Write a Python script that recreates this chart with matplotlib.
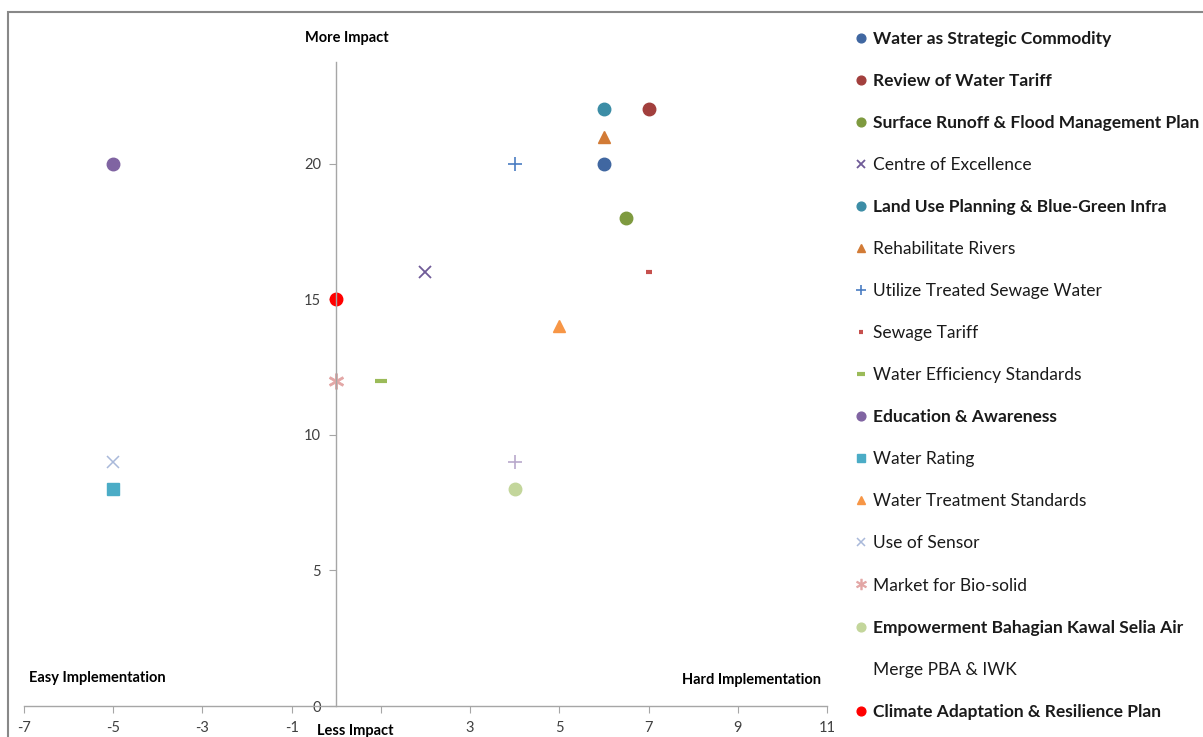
import matplotlib.pyplot as plt
from matplotlib.patches import Rectangle

plt.rcParams['font.family'] = ['Lato', 'DejaVu Sans']
plt.rcParams['axes.unicode_minus'] = False

# initiatives: (name, implementation score, impact score)
names = [
    "Water as Strategic Commodity", "Review of Water Tariff",
    "Surface Runoff & Flood Management Plan", "Centre of Excellence",
    "Land Use Planning & Blue-Green Infra", "Rehabilitate Rivers",
    "Utilize Treated Sewage Water", "Sewage Tariff", "Water Efficiency Standards",
    "Education & Awareness", "Water Rating", "Water Treatment Standards",
    "Use of Sensor", "Market for Bio-solid", "Empowerment Bahagian Kawal Selia Air",
    "Merge PBA & IWK", "Climate Adaptation & Resilience Plan",
]
x_vals = [6, 7, 6.5, 2, 6, 6, 4, 7, 1, -5, -5, 5, -5, 0, 4, 4, 0]
y_vals = [20, 22, 18, 16, 22, 21, 20, 16, 12, 20, 8, 14, 9, 12, 8, 9, 15]
bold = [True, True, True, False, True, False, False, False, False,
        True, False, False, False, False, True, False, True]
x_ticks = list(range(-7, 12, 2))
x_tick_labels = [str(v) if v != 1 else '' for v in x_ticks]  # "1" sits under "Less Impact"

# marker styles per series
markers = ['o', 'o', 'o', 'x', 'o', '^', '+', '_', '_', 'o', 's', '^', 'x', '$\u2217$', 'o', '+', 'o']
colors = ['#4067A1', '#A23F3D', '#7E9A3F', '#6F5B98', '#3C8DA6', '#D27B36', '#4A7DC2',
          '#C6504D', '#9BBB59', '#8064A2', '#4BACC6', '#F79646', '#A9B9DA', '#E3A6A5',
          '#C3D69B', '#B9A9CC', '#FF0000']
sizes = [9, 9, 9, 9, 9, 9, 10, 5, 9, 9, 8, 9, 9, 11, 9, 10, 9]
mews = [1, 1, 1, 1.3, 1, 1, 1.2, 3, 3, 1, 1, 1, 1.1, 0.6, 1, 1.2, 1]

fig = plt.figure(figsize=(12.03, 7.37), dpi=100)
W, H = 1203, 737
ax = fig.add_axes([24 / W, 1 - 706 / H, (827 - 24) / W, (706 - 62) / H])

for i in range(len(names)):
    ax.plot(x_vals[i], y_vals[i], linestyle='none', marker=markers[i], color=colors[i],
            markersize=sizes[i], markeredgewidth=mews[i], label=names[i])

ax.set_xlim(-7, 11)
ax.set_ylim(0, 23.75)
ax.set_xticks(x_ticks)
ax.set_xticklabels(x_tick_labels)
ax.set_yticks(range(0, 21, 5))
ax.spines['left'].set_position(('data', 0))
ax.spines['bottom'].set_position(('data', 0))
ax.spines['top'].set_visible(False)
ax.spines['right'].set_visible(False)
for s in ['left', 'bottom']:
    ax.spines[s].set_color('#A6A6A6')
    ax.spines[s].set_linewidth(1)
ax.tick_params(colors='#A6A6A6', labelcolor='#404040', labelsize=10.5, length=5)
ax.tick_params(axis='y', pad=6)
ax.tick_params(axis='x', pad=6)
ax.patch.set_alpha(0)

# quadrant labels
fig.text(347 / W, 1 - 38 / H, "More Impact", ha='center', va='center', fontsize=10.5, fontweight='bold')
fig.text(355 / W, 1 - 731 / H, "Less Impact", ha='center', va='center', fontsize=10.5, fontweight='bold')
fig.text(97 / W, 1 - 678 / H, "Easy Implementation", ha='center', va='center', fontsize=10.5, fontweight='bold')
fig.text(751 / W, 1 - 680 / H, "Hard Implementation", ha='center', va='center', fontsize=10.5, fontweight='bold')

# chart area border (top and left)
fig.patches.append(Rectangle((8 / W, -0.1), 1.2, 1.1 - 12 / H, transform=fig.transFigure,
                             fill=False, edgecolor='#888888', linewidth=1.5))

leg = fig.legend(loc='upper left', bbox_to_anchor=(854 / W, 1 - 31 / H), frameon=False,
                 fontsize=12.5, labelspacing=1.50, handlelength=0.8, handletextpad=0.3,
                 borderaxespad=0, borderpad=0)
for i, t in enumerate(leg.get_texts()):
    t.set_color('#1A1A1A')
    if bold[i]:
        t.set_fontweight('bold')
for i, h in enumerate(leg.legend_handles):
    if names[i] == "Merge PBA & IWK":
        h.set_visible(False)
    elif markers[i] == '_':
        h.set_markersize(sizes[i] * 0.7)
    else:
        h.set_markersize(sizes[i] * 0.7)

fig.savefig('out.png', dpi=100)
